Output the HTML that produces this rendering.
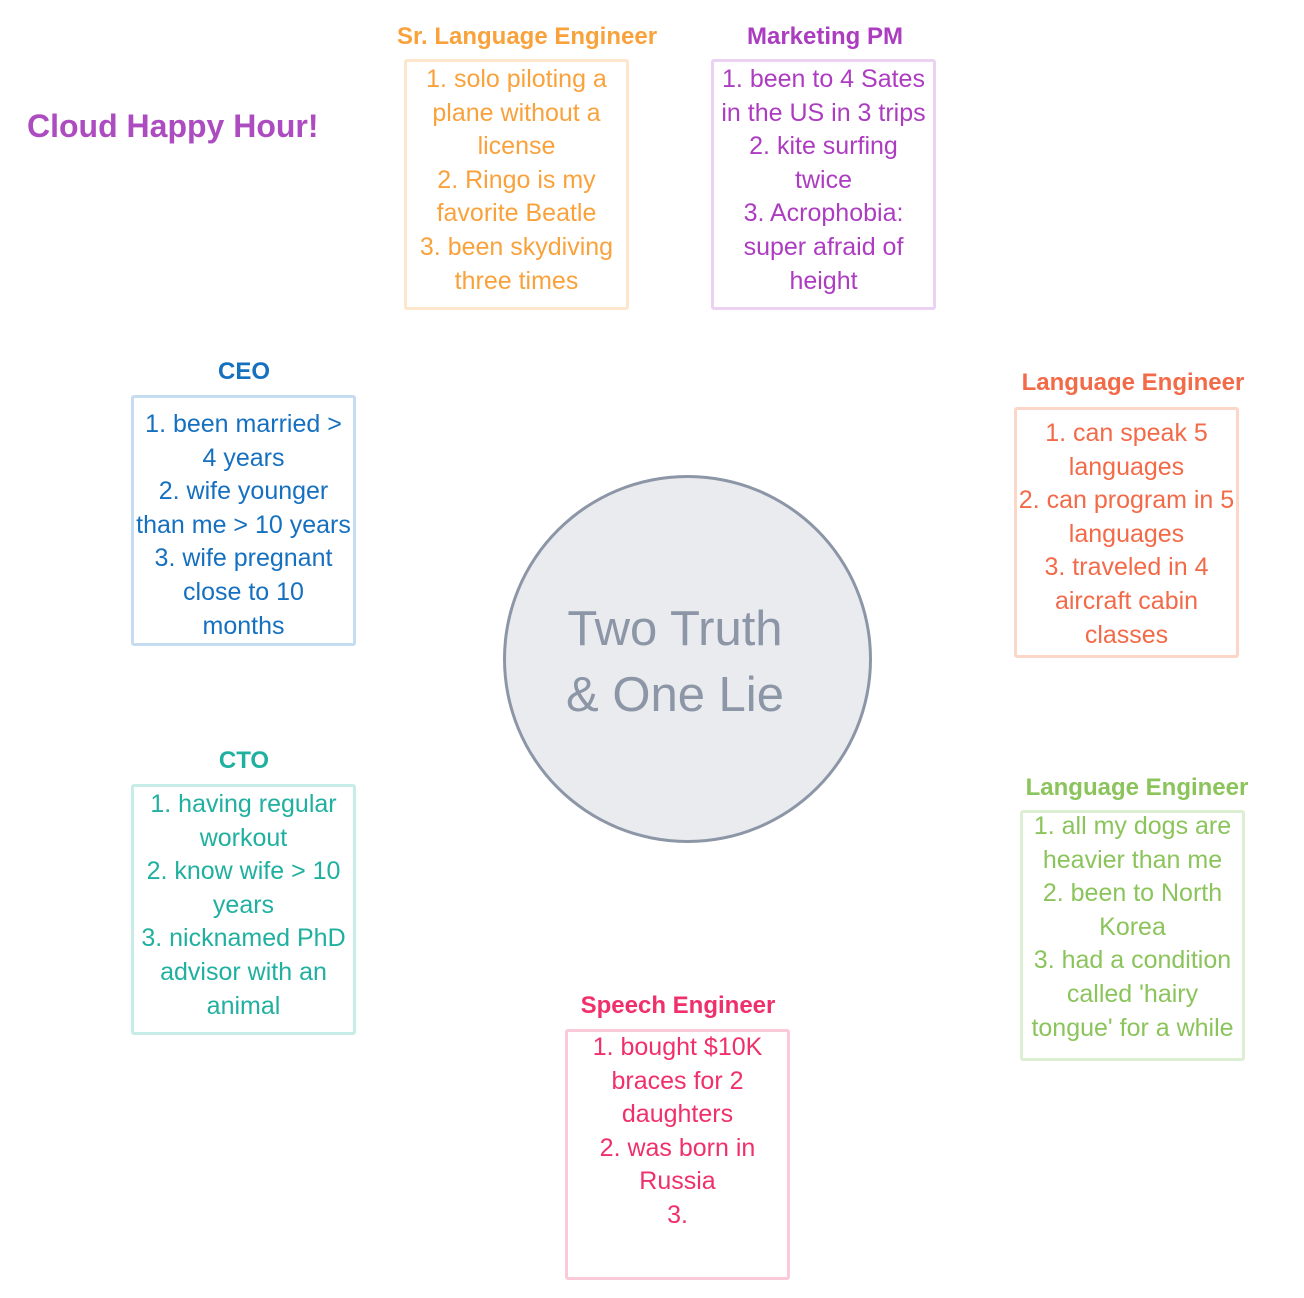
<!DOCTYPE html>
<html><head><meta charset="utf-8"><style>
body{margin:0;width:1304px;height:1298px;background:#fff;position:relative;font-family:"Liberation Sans",sans-serif;overflow:hidden}
.t{position:absolute;font-weight:bold;font-size:24px;text-align:center;width:340px;margin-left:-170px;line-height:26px}
.b{position:absolute;width:219px;height:245px;border:3px solid;border-radius:3px;text-align:center;font-size:25px;line-height:33.6px;box-sizing:content-box}
.b div{position:absolute;left:-14px;right:-14px;top:1px;white-space:nowrap}
</style></head><body>
<div style="position:absolute;left:27px;top:108px;font-size:32px;font-weight:bold;color:#ac4cc0">Cloud Happy Hour!</div>

<div class="t" style="left:527px;top:24px;color:#f9a23c">Sr. Language Engineer</div>
<div class="b" style="left:404px;top:59px;border-color:#fde6cc;color:#f9a23c"><div>1. solo piloting a<br>plane without a<br>license<br>2. Ringo is my<br>favorite Beatle<br>3. been skydiving<br>three times</div></div>

<div class="t" style="left:825px;top:24px;color:#ac3cc0">Marketing PM</div>
<div class="b" style="left:711px;top:59px;border-color:#ecd2f2;color:#ac3cc0"><div>1. been to 4 Sates<br>in the US in 3 trips<br>2. kite surfing<br>twice<br>3. Acrophobia:<br>super afraid of<br>height</div></div>

<div class="t" style="left:244px;top:359px;color:#1670c0">CEO</div>
<div class="b" style="left:131px;top:395px;border-color:#c6dcf0;color:#1670c0"><div style="top:10px">1. been married &gt;<br>4 years<br>2. wife younger<br>than me &gt; 10 years<br>3. wife pregnant<br>close to 10<br>months</div></div>

<div class="t" style="left:1133px;top:370px;color:#f26a48">Language Engineer</div>
<div class="b" style="left:1014px;top:407px;border-color:#fdd6ca;color:#f26a48"><div style="top:7px">1. can speak 5<br>languages<br>2. can program in 5<br>languages<br>3. traveled in 4<br>aircraft cabin<br>classes</div></div>

<div class="t" style="left:244px;top:748px;color:#20b0a0">CTO</div>
<div class="b" style="left:131px;top:784px;border-color:#c8ece8;color:#20b0a0"><div>1. having regular<br>workout<br>2. know wife &gt; 10<br>years<br>3. nicknamed PhD<br>advisor with an<br>animal</div></div>

<div class="t" style="left:1137px;top:775px;color:#8cc45c">Language Engineer</div>
<div class="b" style="left:1020px;top:810px;border-color:#ddefd2;color:#8cc45c"><div style="top:-3px">1. all my dogs are<br>heavier than me<br>2. been to North<br>Korea<br>3. had a condition<br>called 'hairy<br>tongue' for a while</div></div>

<div class="t" style="left:678px;top:993px;color:#f0306a">Speech Engineer</div>
<div class="b" style="left:565px;top:1029px;border-color:#fbcad8;color:#f0306a"><div style="top:-1px">1. bought $10K<br>braces for 2<br>daughters<br>2. was born in<br>Russia<br>3.</div></div>

<div style="position:absolute;left:503px;top:475px;width:369px;height:368px;border:3px solid #8c96a6;border-radius:50%;background:#e9ebef;box-sizing:border-box"></div>
<div style="position:absolute;left:493px;top:596px;width:364px;text-align:center;font-size:49px;line-height:66px;color:#8c96a6">Two Truth<br>&amp; One Lie</div>
</body></html>
